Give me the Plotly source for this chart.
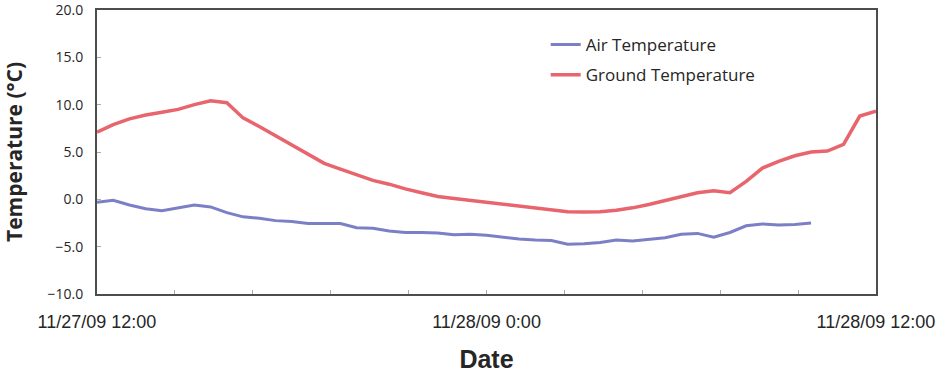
import plotly.graph_objects as go
import pandas as pd

# ---- data ----
start_time = "2009-11-27 12:00"
interval_minutes = 30

ground_temp = [7.1, 7.9, 8.5, 8.9, 9.2, 9.5, 10.0, 10.4, 10.2, 8.6,
               7.7, 6.7, 5.8, 4.7, 3.8, 3.2, 2.6, 2.0, 1.6, 1.1,
               0.7, 0.3, 0.1, -0.1, -0.3, -0.5, -0.7, -0.85, -1.05, -1.3,
               -1.35, -1.3, -1.15, -0.9, -0.55, -0.15, 0.25, 0.7, 0.9, 0.7,
               1.9, 3.3, 4.0, 4.6, 5.0, 5.1, 5.8, 8.8, 9.3]

air_temp = [-0.3, -0.1, -0.6, -1.0, -1.2, -0.9, -0.6, -0.8, -1.4, -1.85,
            -2.0, -2.25, -2.35, -2.55, -2.55, -2.55, -3.0, -3.05, -3.35, -3.5,
            -3.5, -3.55, -3.75, -3.7, -3.8, -4.0, -4.2, -4.3, -4.35, -4.75,
            -4.7, -4.55, -4.3, -4.4, -4.25, -4.05, -3.7, -3.6, -4.0, -3.5,
            -2.8, -2.6, -2.7, -2.65, -2.5]

x_tick_labels = ["11/27/09 12:00", "", "", "", "", "11/28/09 0:00",
                 "", "", "", "", "11/28/09 12:00"]
y_tick_values = [-10, -5, 0, 5, 10, 15, 20]

# ---- derived ----
t0 = pd.Timestamp(start_time)
ground_times = [t0 + pd.Timedelta(minutes=interval_minutes * i) for i in range(len(ground_temp))]
air_times = [t0 + pd.Timedelta(minutes=interval_minutes * i) for i in range(len(air_temp))]
t_end = t0 + pd.Timedelta(hours=24)
n_ticks = len(x_tick_labels)
tick_step = (t_end - t0) / (n_ticks - 1)
x_tick_vals = [t0 + tick_step * k for k in range(n_ticks)]

AIR_COLOR = "#7b7fc6"
GROUND_COLOR = "#e8656d"
TEXT_COLOR = "#262626"
AXIS_COLOR = "#4d4d4d"

fig = go.Figure()
fig.add_trace(go.Scatter(x=air_times, y=air_temp, mode="lines", name="Air Temperature",
                         legendgroup="a",
                         line=dict(color=AIR_COLOR, width=3)))
fig.add_trace(go.Scatter(x=ground_times, y=ground_temp, mode="lines", name="Ground Temperature",
                         legendgroup="g",
                         line=dict(color=GROUND_COLOR, width=3.5)))

fig.update_layout(
    width=936, height=373,
    margin=dict(l=97, r=60, t=10, b=79, autoexpand=False),
    paper_bgcolor="white", plot_bgcolor="white",
    font=dict(family="Open Sans", color=TEXT_COLOR),
    showlegend=True,
    legend=dict(x=0.576, y=0.94, xanchor="left", yanchor="top",
                bgcolor="rgba(0,0,0,0)", tracegroupgap=5,
                font=dict(family="Open Sans", size=17, color=TEXT_COLOR)),
)

fig.update_xaxes(
    type="date",
    range=[t0, t_end],
    tickmode="array", tickvals=x_tick_vals, ticktext=x_tick_labels,
    ticks="inside", ticklen=4, tickwidth=1, tickcolor="#aaaaaa",
    showline=True, linecolor=AXIS_COLOR, linewidth=2, mirror=True,
    showgrid=False, zeroline=False,
    automargin=False, ticklabeloverflow="allow",
    tickfont=dict(family="Liberation Sans", size=18, color=TEXT_COLOR),
    ticklabelstandoff=10,
    title=dict(text="<b>Date</b>", standoff=20,
               font=dict(family="Liberation Sans", size=25, color=TEXT_COLOR)),
)

fig.update_yaxes(
    range=[-10, 20],
    tickmode="array", tickvals=y_tick_values,
    tickformat=".1f",
    ticks="inside", ticklen=4, tickwidth=1, tickcolor="#aaaaaa",
    showline=True, linecolor=AXIS_COLOR, linewidth=2, mirror=True,
    showgrid=False, zeroline=False,
    automargin=False, ticklabeloverflow="allow",
    tickfont=dict(family="Open Sans", size=14, color=TEXT_COLOR),
    ticklabelstandoff=9,
    title=dict(text="<b>Temperature (°C)</b>", standoff=22,
               font=dict(family="Open Sans", size=21, color=TEXT_COLOR)),
)

fig.write_html("out.html", config={"displayModeBar": False},
               post_script="document.body.style.margin='0px';")
